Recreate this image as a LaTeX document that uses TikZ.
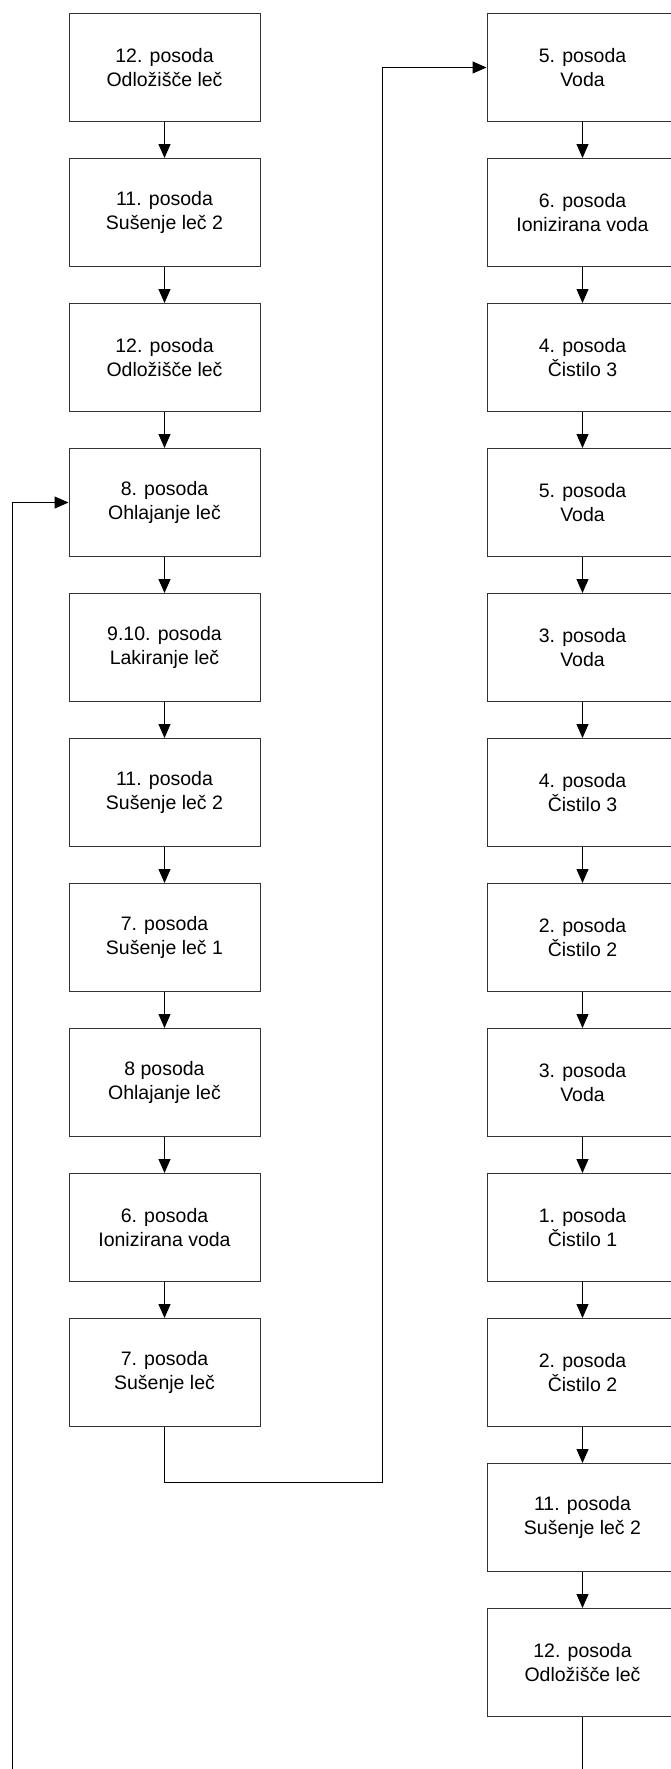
\documentclass[tikz,border=0pt]{standalone}
\usepackage{fontspec}
\setmainfont{Liberation Sans}
\usetikzlibrary{arrows.meta, positioning}
\tikzset{
  posoda/.style={rectangle,draw=black!80,line width=1pt,minimum width=191pt,minimum height=108pt,inner sep=0pt,align=center,font=\fontsize{19.5}{23.4}\selectfont},
  flow/.style={line width=1pt,black,-{Triangle[length=14pt,width=12pt]}},
}

\begin{document}
\begin{tikzpicture}
	    \useasboundingbox (0,0) rectangle (671pt,-1769pt);
	    \clip (0,0) rectangle (671pt,-1769pt);
	    % left column
	    \node[posoda] (l1) at (164.5pt,-67.5pt) {12. posoda\\Odložišče leč};
	    \node[posoda,below=36pt of l1] (l2) {11. posoda\\Sušenje leč 2};
	    \node[posoda,below=36pt of l2] (l3) {12. posoda\\Odložišče leč};
	    \node[posoda,below=36pt of l3] (l4) {8. posoda\\Ohlajanje leč};
	    \node[posoda,below=36pt of l4] (l5) {9.10. posoda\\Lakiranje leč};
	    \node[posoda,below=36pt of l5] (l6) {11. posoda\\Sušenje leč 2};
	    \node[posoda,below=36pt of l6] (l7) {7. posoda\\Sušenje leč 1};
	    \node[posoda,below=36pt of l7] (l8) {8 posoda\\Ohlajanje leč};
	    \node[posoda,below=36pt of l8] (l9) {6. posoda\\Ionizirana voda};
	    \node[posoda,below=36pt of l9] (l10) {7. posoda\\Sušenje leč};
	    % right column
	    \node[posoda,right=226pt of l1] (r1) {5. posoda\\Voda};
	    \node[posoda,below=36pt of r1] (r2) {6. posoda\\Ionizirana voda};
	    \node[posoda,below=36pt of r2] (r3) {4. posoda\\Čistilo 3};
	    \node[posoda,below=36pt of r3] (r4) {5. posoda\\Voda};
	    \node[posoda,below=36pt of r4] (r5) {3. posoda\\Voda};
	    \node[posoda,below=36pt of r5] (r6) {4. posoda\\Čistilo 3};
	    \node[posoda,below=36pt of r6] (r7) {2. posoda\\Čistilo 2};
	    \node[posoda,below=36pt of r7] (r8) {3. posoda\\Voda};
	    \node[posoda,below=36pt of r8] (r9) {1. posoda\\Čistilo 1};
	    \node[posoda,below=36pt of r9] (r10) {2. posoda\\Čistilo 2};
	    \node[posoda,below=36pt of r10] (r11) {11. posoda\\Sušenje leč 2};
	    \node[posoda,below=36pt of r11] (r12) {12. posoda\\Odložišče leč};
	    \draw (l1) edge[flow] (l2);
	    \draw (l2) edge[flow] (l3);
	    \draw (l3) edge[flow] (l4);
	    \draw (l4) edge[flow] (l5);
	    \draw (l5) edge[flow] (l6);
	    \draw (l6) edge[flow] (l7);
	    \draw (l7) edge[flow] (l8);
	    \draw (l8) edge[flow] (l9);
	    \draw (l9) edge[flow] (l10);
	    \draw (r1) edge[flow] (r2);
	    \draw (r2) edge[flow] (r3);
	    \draw (r3) edge[flow] (r4);
	    \draw (r4) edge[flow] (r5);
	    \draw (r5) edge[flow] (r6);
	    \draw (r6) edge[flow] (r7);
	    \draw (r7) edge[flow] (r8);
	    \draw (r8) edge[flow] (r9);
	    \draw (r9) edge[flow] (r10);
	    \draw (r10) edge[flow] (r11);
	    \draw (r11) edge[flow] (r12);
	    % left column to right column
	    \coordinate (c1) at ([yshift=-55.5pt]l10.south);
	    \coordinate (c2) at ([xshift=-104pt]r1.west);
	    \draw[flow] (l10.south) -- (c1) -| (c2) -- (r1.west);
	    % back to the cooling step
	    \coordinate (d1) at ([yshift=-100pt]r12.south);
	    \coordinate (d2) at ([xshift=-56.5pt]l4.west);
	    \draw[flow] (r12.south) -- (d1) -| (d2) -- (l4.west);
	\end{tikzpicture}
\end{document}
